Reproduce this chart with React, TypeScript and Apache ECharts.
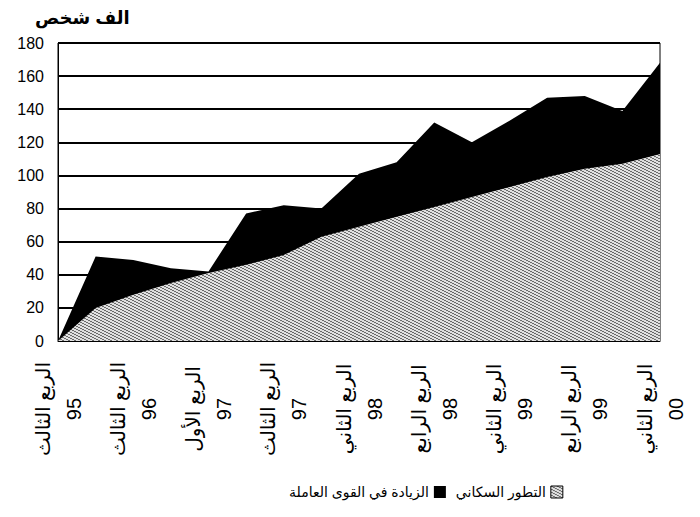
import React, { useEffect, useRef } from "react";
import * as echarts from "echarts";

// Category slots (17 data points, labelled every other slot)
const categories = [
  "1", "2", "3", "4", "5", "6", "7", "8", "9",
  "10", "11", "12", "13", "14", "15", "16", "17",
];
// Tick labels (quarter name + year), shown on every other slot
const quarterNames = [
  "الربع الثالث", "الربع الثالث", "الربع الأول", "الربع الثالث", "الربع الثاني",
  "الربع الرابع", "الربع الثاني", "الربع الرابع", "الربع الثاني",
];
const years = ["95", "96", "97", "97", "98", "98", "99", "99", "00"];

// Series values (thousand persons)
const laborIncrease = [0, 51, 49, 44, 42, 77, 82, 80, 101, 108, 132, 120, 133, 147, 148, 139, 168];
const population = [0, 20, 28, 35, 41, 46, 52, 63, 69, 75, 81, 87, 93, 99, 104, 107, 113];

const seriesNames = ["الزيادة في القوى العاملة", "التطور السكاني"];
const yTitle = "الف شخص";

const FONT = "'Liberation Sans', 'DejaVu Sans', Arial, sans-serif";

function makeHatch(): HTMLCanvasElement {
  const c = document.createElement("canvas");
  c.width = 6;
  c.height = 3;
  const ctx = c.getContext("2d")!;
  ctx.fillStyle = "#e0e0e0";
  ctx.fillRect(0, 0, 6, 3);
  ctx.fillStyle = "#6a6a6a";
  const pts = [[0, 0], [1, 0], [2, 1], [3, 1], [4, 2], [5, 2]];
  pts.forEach(([x, y]) => ctx.fillRect(x, y, 1, 1));
  return c;
}

export default function App() {
  const ref = useRef<HTMLDivElement>(null);

  useEffect(() => {
    if (!ref.current) return;
    const chart = echarts.init(ref.current, undefined, { renderer: "svg" });
    const hatch = { image: makeHatch(), repeat: "repeat" } as any;
    const tickLabels = quarterNames.map((q, i) => q + "\n" + years[i]);

    chart.setOption({
      animation: false,
      backgroundColor: "#ffffff",
      textStyle: { fontFamily: FONT, color: "#000" },
      title: {
        text: yTitle,
        left: 30,
        top: 4,
        textStyle: { fontFamily: FONT, fontSize: 18, fontWeight: "bold", color: "#000" },
      },
      legend: {
        bottom: 13,
        left: 284,
        align: "right",
        itemWidth: 12,
        itemHeight: 12,
        itemGap: 10,
        textStyle: { fontFamily: FONT, fontSize: 14, color: "#000" },
        data: [
          { name: seriesNames[0], icon: "rect", itemStyle: { color: "#000" } },
          {
            name: seriesNames[1],
            icon: "rect",
            itemStyle: { color: hatch, borderColor: "#000", borderWidth: 1 },
          },
        ],
      },
      grid: {
        left: 58,
        right: 40,
        top: 43,
        bottom: 176,
        show: true,
        borderColor: "#000",
        borderWidth: 1,
      },
      xAxis: {
        type: "category",
        data: categories,
        boundaryGap: false,
        axisLine: { show: true, lineStyle: { color: "#000", width: 1 } },
        axisTick: { show: false },
        splitLine: { show: false },
        axisLabel: {
          interval: 0,
          formatter: (_v: string, i: number) => (i % 2 === 0 ? tickLabels[i / 2] : ""),
          rotate: 90,
          align: "center",
          verticalAlign: "middle",
          margin: 68,
          lineHeight: 31,
          fontSize: 20,
          fontFamily: FONT,
          color: "#000",
        },
      },
      yAxis: {
        type: "value",
        min: 0,
        max: 180,
        interval: 20,
        axisLine: { show: true, lineStyle: { color: "#000", width: 1 } },
        axisTick: { show: false },
        axisLabel: { fontSize: 16, fontFamily: FONT, color: "#000", margin: 14 },
        splitLine: { show: true, lineStyle: { color: "#000", width: 2 } },
      },
      series: [
        {
          name: seriesNames[0],
          type: "line",
          data: laborIncrease,
          symbol: "none",
          lineStyle: { width: 0 },
          itemStyle: { color: "#000" },
          areaStyle: { color: "#000", opacity: 1 },
        },
        {
          name: seriesNames[1],
          type: "line",
          data: population,
          symbol: "none",
          lineStyle: { width: 0 },
          itemStyle: { color: hatch },
          areaStyle: { color: hatch, opacity: 1 },
        },
      ],
    });

    return () => chart.dispose();
  }, []);

  return (
    <div
      ref={ref}
      style={{ position: "fixed", left: 0, top: 0, width: 700, height: 517 }}
    />
  );
}
